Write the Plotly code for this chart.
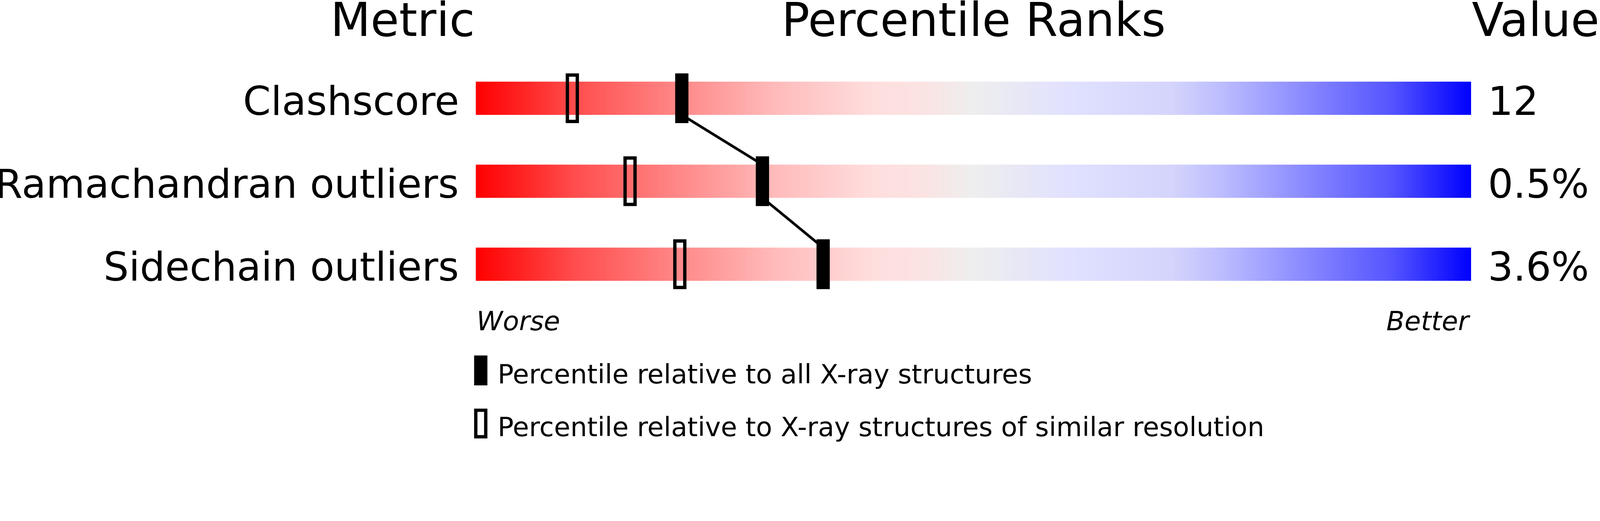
import numpy as np
import plotly.graph_objects as go

# ---------------- data ----------------
metrics = ["Clashscore", "Ramachandran outliers", "Sidechain outliers"]
value_labels = ["12", "0.5%", "3.6%"]
pct_all = [20.7, 28.8, 34.9]        # percentile relative to all X-ray structures
pct_similar = [9.7, 15.5, 20.5]     # percentile relative to similar resolution
headers = ["Metric", "Percentile Ranks", "Value"]
scale_ends = ["Worse", "Better"]
legend_labels = ["Percentile relative to all X-ray structures",
                 "Percentile relative to X-ray structures of similar resolution"]

# ---------------- layout constants (reference pixels, scaled by S) ----------------
S = 4096 / 4823.0
REF_W, REF_H = 4823, 1333
W, H = int(round(REF_W * S)), int(round(REF_H * S))
BAR_L, BAR_R = 1434, 4434
ROW0_PX, ROW_PX = 296, 250
FONT = "DejaVu Sans"

def sp(v):
    return v * S

def py(px):
    return 1 - px / REF_H

def pxx(px):
    return (px - BAR_L) / float(BAR_R - BAR_L)

colorscale = [
    [0.00, "#ff0000"], [0.10, "#ff4d4d"], [0.20, "#ff8686"], [0.30, "#ffbaba"],
    [0.40, "#ffdede"], [0.45, "#fbe3e3"], [0.50, "#eeeeee"], [0.60, "#e0e0ff"],
    [0.70, "#d4d4fc"], [0.75, "#bcbcff"], [0.80, "#9e9eff"], [0.87, "#7272ff"],
    [0.92, "#5555ff"], [1.00, "#0000ff"],
]

fig = go.Figure()
n = 1000
xe = np.linspace(0, 100, n + 1)
xm = (xe[:-1] + xe[1:]) / 2
for i, m in enumerate(metrics):
    fig.add_trace(go.Heatmap(x=xe, y=[i - 0.2, i + 0.2], z=[xm], zmin=0, zmax=100,
                             colorscale=colorscale, showscale=False,
                             hoverinfo="skip"))

# connecting line between 'all' markers: bar bottom -> next bar top
lx, ly = [], []
for i, p in enumerate(pct_all):
    if i > 0:
        lx.append(p); ly.append(i - 0.2)
    if i < len(pct_all) - 1:
        lx.append(p); ly.append(i + 0.2)
fig.add_trace(go.Scatter(x=lx, y=ly, mode="lines",
                         line=dict(color="black", width=sp(8)),
                         hoverinfo="skip", showlegend=False))

shapes = []
for i in range(len(metrics)):
    shapes.append(dict(type="rect", xref="x", yref="y", xsizemode="pixel",
                       ysizemode="pixel", xanchor=pct_all[i], yanchor=i,
                       x0=sp(-20), x1=sp(20), y0=sp(-75), y1=sp(75),
                       fillcolor="black", line=dict(width=0), layer="above"))
    shapes.append(dict(type="rect", xref="x", yref="y", xsizemode="pixel",
                       ysizemode="pixel", xanchor=pct_similar[i], yanchor=i,
                       x0=sp(-15), x1=sp(15), y0=sp(-70), y1=sp(70),
                       fillcolor="rgba(0,0,0,0)",
                       line=dict(width=sp(10), color="black"), layer="above"))

# legend swatches
shapes.append(dict(type="rect", xref="paper", yref="paper",
                   x0=pxx(1429), x1=pxx(1469), y0=py(1161), y1=py(1071),
                   fillcolor="black", line=dict(width=0)))
shapes.append(dict(type="rect", xref="paper", yref="paper",
                   x0=pxx(1434), x1=pxx(1464), y0=py(1316), y1=py(1236),
                   fillcolor="rgba(0,0,0,0)", line=dict(width=sp(10), color="black")))

ann = []
for i, m in enumerate(metrics):
    ann.append(dict(text=m, xref="paper", yref="y", x=0, y=i, xanchor="right",
                    yanchor="middle", xshift=sp(-48), yshift=sp(-8), showarrow=False,
                    font=dict(family=FONT, size=sp(120), color="black")))
    ann.append(dict(text=value_labels[i], xref="paper", yref="y", x=1, y=i,
                    xanchor="left", yanchor="middle", xshift=sp(48), yshift=sp(-8),
                    showarrow=False,
                    font=dict(family=FONT, size=sp(120), color="black")))

HDR = 140
hdr_y = py(111 + 0.236 * HDR)
ann.append(dict(text=headers[0], xref="paper", yref="paper", x=0, y=hdr_y,
                xanchor="right", yanchor="bottom", showarrow=False,
                font=dict(family=FONT, size=sp(HDR), color="black")))
ann.append(dict(text=headers[1], xref="paper", yref="paper", x=0.5, y=hdr_y,
                xanchor="center", yanchor="bottom", showarrow=False,
                font=dict(family=FONT, size=sp(HDR), color="black")))
ann.append(dict(text=headers[2], xref="paper", yref="paper", x=1, y=hdr_y,
                xanchor="right", yanchor="bottom", xshift=sp(REF_W - BAR_R),
                showarrow=False,
                font=dict(family=FONT, size=sp(HDR), color="black")))

we_y = py(997 + 0.236 * 80)
ann.append(dict(text=scale_ends[0], xref="paper", yref="paper", x=0, y=we_y,
                xanchor="left", yanchor="bottom", showarrow=False,
                font=dict(family=FONT, size=sp(80), color="black", style="italic")))
ann.append(dict(text=scale_ends[1], xref="paper", yref="paper", x=1, y=we_y,
                xanchor="right", yanchor="bottom", showarrow=False,
                font=dict(family=FONT, size=sp(80), color="black", style="italic")))

for k, (lab, base) in enumerate(zip(legend_labels, [1157, 1317])):
    ann.append(dict(text=lab, xref="paper", yref="paper", x=pxx(1498),
                    y=py(base + 0.236 * 80), xanchor="left", yanchor="bottom",
                    showarrow=False,
                    font=dict(family=FONT, size=sp(80), color="black")))

yr_bottom = (REF_H - ROW0_PX) / ROW_PX
yr_top = -ROW0_PX / ROW_PX
fig.update_layout(
    width=W, height=H,
    margin=dict(l=sp(BAR_L), r=W - sp(BAR_R), t=0, b=0, pad=0),
    paper_bgcolor="white", plot_bgcolor="white",
    xaxis=dict(range=[0, 100], visible=False, fixedrange=True),
    yaxis=dict(range=[yr_bottom, yr_top], visible=False, fixedrange=True),
    shapes=shapes, annotations=ann, showlegend=False,
)
fig.write_html("out.html", config={"displayModeBar": False},
               post_script="document.body.style.margin='0';document.body.style.overflow='hidden';")
